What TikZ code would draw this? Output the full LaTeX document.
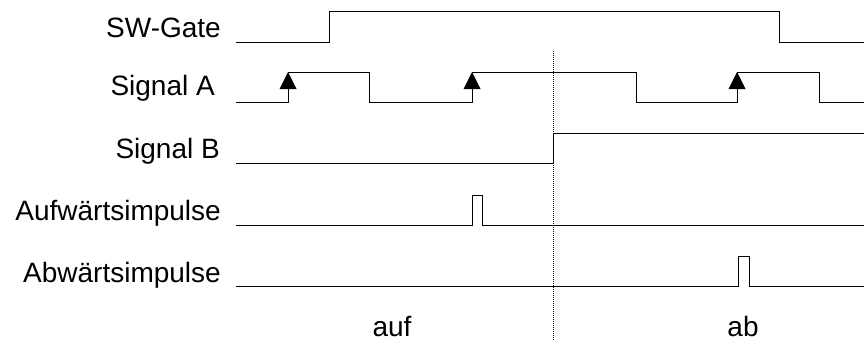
\documentclass[tikz,border=0pt]{standalone}
\usepackage{fontspec}
\setmainfont{Liberation Sans}
\begin{document}
\begin{tikzpicture}[x=1pt,y=-1pt,
  wave/.style={line width=1pt,black,line join=miter},
  lbl/.style={font=\fontsize{28}{34}\selectfont,inner sep=0pt,anchor=base east},
  btm/.style={font=\fontsize{28}{34}\selectfont,inner sep=0pt,anchor=base},
  edgemark/.style={fill=black},
  sep/.style={line width=0.7pt,dash pattern=on 1pt off 1pt}]
\useasboundingbox (0,0) rectangle (864,340);
% labels
\node[lbl] (lgate) at (221,37) {SW-Gate};
\node[lbl] (la) at (215,95) {Signal A};
\node[lbl] (lb) at (220,158) {Signal B};
\node[lbl] (lauf) at (221,220) {Aufwärtsimpulse};
\node[lbl] (lab) at (221,282) {Abwärtsimpulse};
\node[btm] (tauf) at (392,336) {auf};
\node[btm] (tab) at (743,336) {ab};
% separator
\draw[sep] (553,51) -- (553,340);
% SW-Gate
\draw[wave] (236,42) -- (329,42) -- (329,11) -- (779,11) -- (779,42) -- (864,42);
% Signal A
\draw[wave] (236,102) -- (288,102) -- (288,72) -- (369,72) -- (369,102) -- (472,102) -- (472,72)
  -- (636,72) -- (636,102) -- (737,102) -- (737,72) -- (819,72) -- (819,102) -- (864,102);
\foreach \x in {288,472,737}
  \fill[edgemark] (\x,72) -- (\x-8.5,89) -- (\x+8.5,89) -- cycle;
% Signal B
\draw[wave] (236,163) -- (553,163) -- (553,133) -- (864,133);
% Aufwaertsimpulse
\draw[wave] (236,225) -- (472,225) -- (472,195) -- (482,195) -- (482,225) -- (864,225);
% Abwaertsimpulse
\draw[wave] (236,286) -- (738,286) -- (738,256) -- (749,256) -- (749,286) -- (864,286);
\end{tikzpicture}
\end{document}
